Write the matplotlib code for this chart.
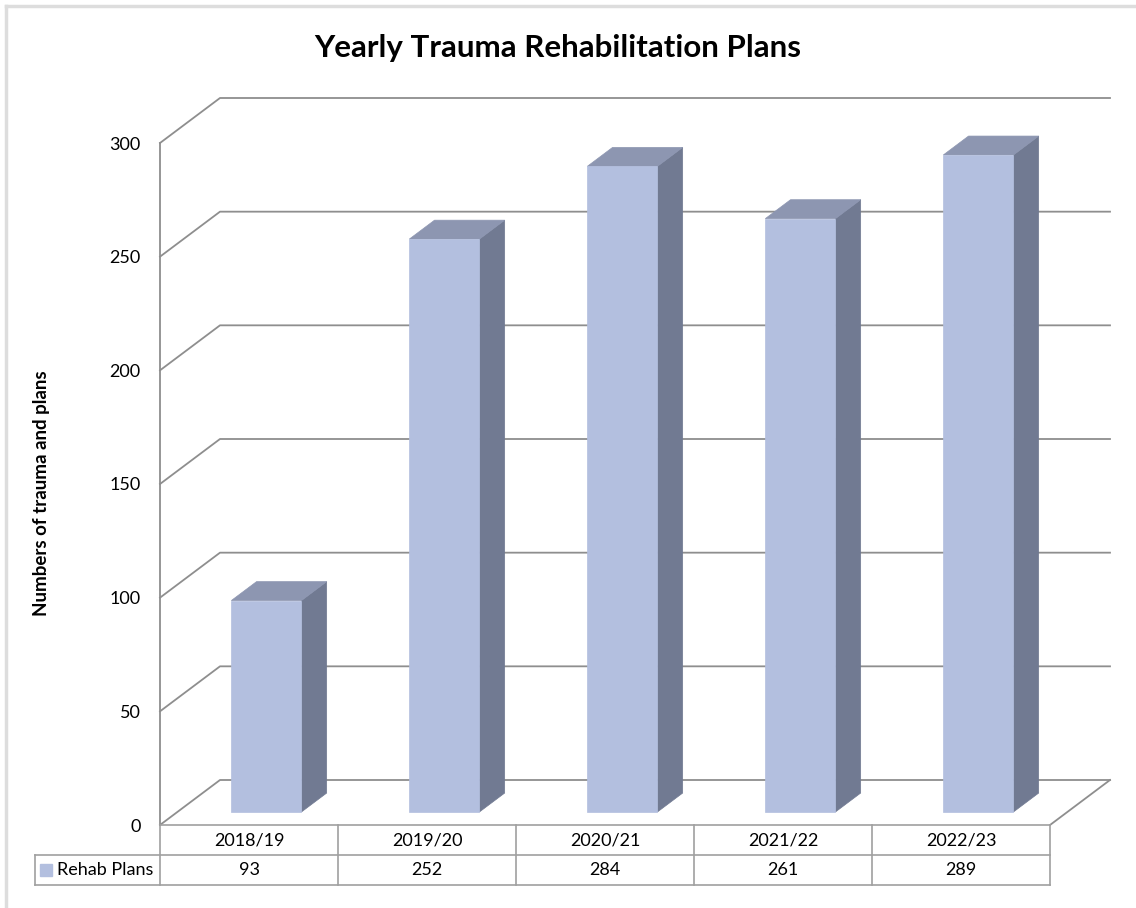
import matplotlib.pyplot as plt
from matplotlib.patches import Polygon
from matplotlib.lines import Line2D

plt.rcParams['font.family'] = ['Lato', 'DejaVu Sans']

years = ['2018/19', '2019/20', '2020/21', '2021/22', '2022/23']
rehab_plans = [93, 252, 284, 261, 289]
series_name = 'Rehab Plans'
y_ticks = [0, 50, 100, 150, 200, 250, 300]

FRONT = '#B3BFDF'
SIDE = '#717A92'
TOP = '#8D96B1'
GRID = '#8E8E8E'
TABLE = '#A0A0A0'

W, H = 1136, 908
fig = plt.figure(figsize=(W / 100, H / 100), dpi=100)
ax = fig.add_axes([160 / W, 83 / H, 890 / W, 682 / H])
n = len(years)
ax.set_xlim(-0.5, n - 0.5)
ax.set_ylim(y_ticks[0], y_ticks[-1])

# depth of the 3-D box in data units (x: categories, y: values)
DX = 60 / 178
DY = 45 * (y_ticks[-1] - y_ticks[0]) / 682


def proj(x, y, d):
    return (x + d * DX, y + d * DY)


# back wall / side wall gridlines, value 0 is the back edge of the floor
x0, x1 = -0.5, n - 0.5
for v in y_ticks:
    pts = [proj(x0, v, 0), proj(x0, v, 1), proj(x1, v, 1)]
    ax.add_line(Line2D([p[0] for p in pts], [p[1] for p in pts],
                       color=GRID, lw=1.3, clip_on=False, zorder=1))
# right edge of the floor
pts = [proj(x1, 0, 0), proj(x1, 0, 1)]
ax.add_line(Line2D([p[0] for p in pts], [p[1] for p in pts],
                   color=GRID, lw=1.3, clip_on=False, zorder=1))

# 3-D columns
hw = 0.197
d0, d1 = 0.29, 0.71
for i, v in enumerate(rehab_plans):
    front = [proj(i - hw, 0, d0), proj(i + hw, 0, d0),
             proj(i + hw, v, d0), proj(i - hw, v, d0)]
    side = [proj(i + hw, 0, d0), proj(i + hw, 0, d1),
            proj(i + hw, v, d1), proj(i + hw, v, d0)]
    top = [proj(i - hw, v, d0), proj(i + hw, v, d0),
           proj(i + hw, v, d1), proj(i - hw, v, d1)]
    for face, c in ((side, SIDE), (top, TOP), (front, FRONT)):
        ax.add_patch(Polygon(face, closed=True, facecolor=c, edgecolor=c,
                             lw=0.5, clip_on=False, zorder=3))

# axes
for s in ('top', 'right'):
    ax.spines[s].set_visible(False)
ax.spines['left'].set_color(GRID)
ax.spines['left'].set_linewidth(1.3)
ax.spines['bottom'].set_color(TABLE)
ax.spines['bottom'].set_linewidth(1.2)
ax.set_xticks([])
ax.set_yticks(y_ticks)
ax.tick_params(axis='y', length=0, pad=14, labelsize=13)
ax.patch.set_alpha(0)

# data table under the plot
trans = ax.get_xaxis_transform()
rh = 30 / 682
leg_left = -0.5 - 125 / 178
for yy in (-rh, -2 * rh):
    ax.add_line(Line2D([leg_left, x1], [yy, yy], transform=trans,
                       color=TABLE, lw=1.2, clip_on=False))
for k in range(n + 1):
    xx = -0.5 + k
    ax.add_line(Line2D([xx, xx], [0, -2 * rh], transform=trans,
                       color=TABLE, lw=1.2, clip_on=False))
ax.add_line(Line2D([leg_left, leg_left], [-rh, -2 * rh], transform=trans,
                   color=TABLE, lw=1.2, clip_on=False))
for i, (yr, v) in enumerate(zip(years, rehab_plans)):
    ax.text(i, -rh / 2, yr, transform=trans, ha='center', va='center',
            fontsize=13)
    ax.text(i, -1.5 * rh, str(v), transform=trans, ha='center', va='center',
            fontsize=13)
ax.plot([-0.5 - 114 / 178], [-1.5 * rh], transform=trans, marker='s',
        markersize=8, color=FRONT, clip_on=False, ls='none')
ax.text(-0.5 - 103 / 178, -1.5 * rh, series_name, transform=trans,
        ha='left', va='center', fontsize=13)

fig.text(558 / W, 1 - 57 / H, 'Yearly Trauma Rehabilitation Plans',
         ha='center', va='baseline', fontsize=22.5, fontweight='bold')
fig.text(42 / W, 1 - 493 / H, 'Numbers of trauma and plans', rotation=90,
         ha='center', va='center', fontsize=13.5, fontweight='bold')

# light frame along the left and top edges
fig.add_artist(Line2D([6 / W, 6 / W], [0, 1 - 6 / H], color='#DDDDDD', lw=2.5))
fig.add_artist(Line2D([6 / W, 1], [1 - 6 / H, 1 - 6 / H], color='#DDDDDD', lw=2.5))

fig.savefig('out.png', dpi=100)
